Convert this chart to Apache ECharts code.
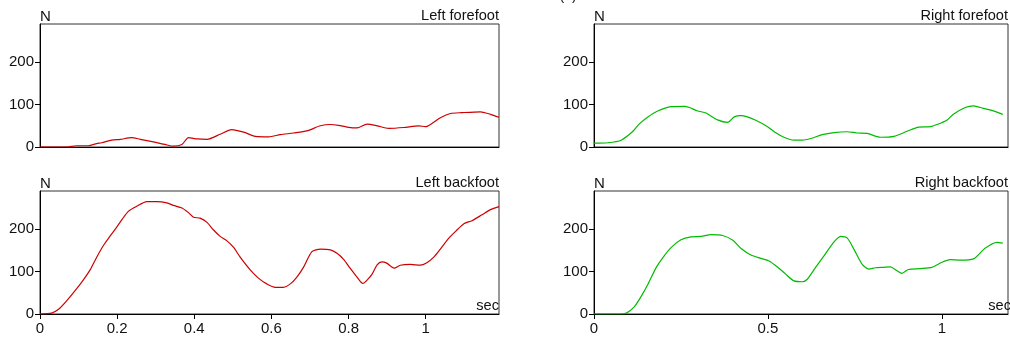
<!DOCTYPE html>
<html>
<head>
<meta charset="utf-8">
<script src="https://cdn.jsdelivr.net/npm/echarts@6/dist/echarts.min.js"></script>
<style>html,body{margin:0;padding:0;background:#fff}#c{width:1010px;height:338px}</style>
</head>
<body>
<div id="c"></div>
<script>
// Left forefoot
const tLF = [0,0.069,0.095,0.125,0.147,0.16,0.186,0.208,0.238,0.26,0.294,0.324,0.346,0.368,0.385,0.407,0.433,0.467,0.497,0.528,0.558,0.593,0.623,0.657,0.692,0.727,0.753,0.774,0.796,0.822,0.848,0.874,0.904,0.943,0.982,0.999,1.017,1.038,1.064,1.094,1.142,1.168,1.19];
const vLF = [0,0,3,3,8,10,16,18,22,18,12,6,2,6,22,19,18,30,41,35,25,24,29,33,38,50,53,51,47,45,54,50,44,46,50,48,56,69,79,81,83,77,70];
// Left backfoot
const tLB = [0,0.03,0.048,0.069,0.091,0.112,0.13,0.147,0.164,0.182,0.199,0.212,0.229,0.251,0.277,0.303,0.329,0.346,0.368,0.385,0.398,0.415,0.433,0.45,0.467,0.484,0.502,0.519,0.545,0.567,0.588,0.61,0.631,0.649,0.666,0.683,0.705,0.727,0.753,0.77,0.787,0.804,0.822,0.837,0.848,0.861,0.874,0.886,0.899,0.918,0.934,0.96,0.986,1.003,1.021,1.038,1.06,1.081,1.099,1.12,1.146,1.168,1.19];
const vLB = [0,2,11,31,55,80,104,134,161,184,205,222,242,254,265,265,262,256,250,239,228,226,216,198,183,173,157,134,104,84,71,63,63,71,87,110,147,153,151,143,129,108,87,72,80,94,116,123,120,108,115,117,115,121,134,153,179,198,213,220,234,246,253];
// Right forefoot
const tRF = [0,0.04,0.078,0.112,0.131,0.155,0.183,0.222,0.26,0.274,0.298,0.322,0.355,0.384,0.403,0.422,0.441,0.465,0.499,0.518,0.546,0.575,0.599,0.623,0.656,0.69,0.728,0.756,0.785,0.823,0.862,0.9,0.933,0.967,0.986,1.014,1.033,1.067,1.091,1.119,1.148,1.175];
const vRF = [9,10,16,37,55,71,85,95,96,93,85,80,64,58,71,74,71,63,48,36,23,16,16,20,29,34,36,33,32,23,25,37,47,48,53,63,77,93,97,91,85,77];
// Right backfoot
const tRB = [0,0.078,0.093,0.115,0.136,0.155,0.179,0.198,0.222,0.25,0.279,0.308,0.336,0.37,0.399,0.422,0.451,0.48,0.503,0.527,0.551,0.575,0.599,0.613,0.637,0.661,0.685,0.709,0.728,0.747,0.771,0.79,0.809,0.833,0.852,0.871,0.885,0.904,0.938,0.971,1.0,1.024,1.053,1.091,1.124,1.158,1.175];
const vRB = [0,0,2,16,42,70,110,133,157,175,182,183,187,185,174,155,139,131,125,111,94,78,76,82,110,137,165,183,179,153,117,106,109,110,111,102,96,105,107,110,122,128,127,130,155,169,167];

const yTicks = [0,100,200];
const xTicksLeft = [0,0.2,0.4,0.6,0.8,1];
const xTicksRight = [0,0.5,1];
const titles = ['Left forefoot','Left backfoot','Right forefoot','Right backfoot'];

const FONT = 'Liberation Sans, Arial, sans-serif';
const grids = [
  {left:40, top:24, width:459, height:123},
  {left:40, top:191, width:459, height:123},
  {left:594, top:24, width:414, height:123},
  {left:594, top:191, width:414, height:123}
];
const panels = [
  {t:tLF, v:vLF, color:'#cc0000', xt:xTicksLeft, bottom:false},
  {t:tLB, v:vLB, color:'#cc0000', xt:xTicksLeft, bottom:true},
  {t:tRF, v:vRF, color:'#00bb00', xt:xTicksRight, bottom:false},
  {t:tRB, v:vRB, color:'#00bb00', xt:xTicksRight, bottom:true}
];
const pair = (a,b) => a.map((x,i)=>[x,b[i]]);

const option = {
  animation:false,
  backgroundColor:'#fff',
  grid: grids.map(g => Object.assign({show:true, borderColor:'#333', borderWidth:1, backgroundColor:'transparent'}, g)),
  xAxis: panels.map((p,i) => ({
    type:'value', gridIndex:i, min:0, max:1.19,
    axisLine:{show:true, onZero:false, lineStyle:{color:'#000', width:1}},
    axisTick:{show:p.bottom, length:5, customValues:p.xt, lineStyle:{color:'#000'}},
    axisLabel:{show:p.bottom, customValues:p.xt, margin:7, fontSize:15, color:'#111', fontFamily:FONT},
    splitLine:{show:false}
  })),
  yAxis: panels.map((p,i) => ({
    type:'value', gridIndex:i, min:0, max:290,
    axisLine:{show:true, onZero:false, lineStyle:{color:'#000', width:1}},
    axisTick:{show:true, length:5, customValues:yTicks, lineStyle:{color:'#000'}},
    axisLabel:{customValues:yTicks, margin:6, fontSize:15, color:'#111', fontFamily:FONT},
    splitLine:{show:false}
  })),
  series: panels.map((p,i) => ({
    type:'line', xAxisIndex:i, yAxisIndex:i, data:pair(p.t,p.v),
    showSymbol:false, smooth:0.25, lineStyle:{color:p.color, width:1.2}, clip:true
  })),
  graphic: [].concat(
    grids.map(g => ({type:'text', left:g.left, top:g.top-15, style:{text:'N', font:'15px '+FONT, fill:'#111'}})),
    grids.map((g,i) => ({type:'text', x:g.left+g.width, y:g.top-0.5, style:{text:titles[i], font:'14.6px '+FONT, fill:'#111', textAlign:'right', textVerticalAlign:'bottom'}})),
    [grids[1], grids[3]].map(g => ({type:'text', x:g.left+g.width+(g.left>500?3:0), y:g.top+g.height-1, style:{text:'sec', font:'14.6px '+FONT, fill:'#111', textAlign:'right', textVerticalAlign:'bottom'}})),
    [{type:'text', x:568, y:3, style:{text:'(b)', font:'14px '+FONT, fill:'#111', textAlign:'center', textVerticalAlign:'bottom'}}]
  )
};
echarts.init(document.getElementById('c'), null, {renderer:'canvas'}).setOption(option);
</script>
</body>
</html>
